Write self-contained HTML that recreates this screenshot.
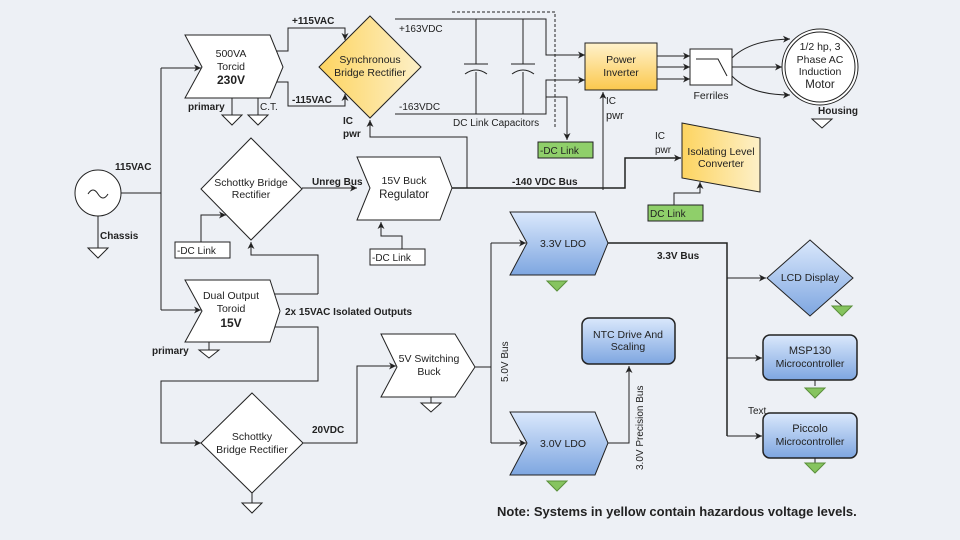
<!DOCTYPE html>
<html><head><meta charset="utf-8"><style>
html,body{margin:0;padding:0;background:#edf0f5;}
svg{display:block;font-family:"Liberation Sans",sans-serif;}
</style></head><body>
<svg width="960" height="540" viewBox="0 0 960 540" xmlns="http://www.w3.org/2000/svg">
<defs>
<linearGradient id="yl" x1="0" y1="0" x2="1" y2="0"><stop offset="0" stop-color="#fdd460"/><stop offset="1" stop-color="#fdf0c8"/></linearGradient>
<linearGradient id="yv" x1="0" y1="0" x2="0" y2="1"><stop offset="0" stop-color="#fff2cc"/><stop offset="1" stop-color="#fbc84d"/></linearGradient>
<linearGradient id="bl" x1="0" y1="0" x2="0" y2="1"><stop offset="0" stop-color="#dae8fc"/><stop offset="1" stop-color="#7ea6e0"/></linearGradient>
<marker id="a" markerWidth="8" markerHeight="8" refX="7" refY="4" orient="auto" markerUnits="userSpaceOnUse"><path d="M0,0.5 L7,4 L0,7.5 L2,4z" fill="#222"/></marker>
</defs>
<rect width="960" height="540" fill="#edf0f5"/>
<g fill="none" stroke="#222" stroke-width="1">
<circle cx="98" cy="193" r="23" fill="#fff"/>
<path d="M88,194 q5,-8 10,0 t10,0"/>
<path d="M98,216 V248"/>
<path d="M121,193 H161 M161,68 V310"/>
<path d="M161,68 H201" marker-end="url(#a)"/>
<path d="M161,310 H201" marker-end="url(#a)"/>
<path d="M232,98 V115 M258,98 V115"/>
<path d="M272,51 H288 V28 H345 V40" marker-end="url(#a)"/>
<path d="M272,82 H288 V106 H345 V94" marker-end="url(#a)"/>
<path d="M395,19 H546 V55 H585" marker-end="url(#a)"/>
<path d="M395,114 H546 V80 H585" marker-end="url(#a)"/>
<path d="M476,19 V64 M476,72 V114 M523,19 V64 M523,72 V114"/>
<path d="M464,64 H488 M511,64 H535"/>
<path d="M465,74 q11,-8 22,0 M512,74 q11,-8 22,0"/>
<path d="M452,12 H555 V128" stroke-dasharray="3,2"/>
<path d="M546,97 H567 V140" marker-end="url(#a)"/>
<path d="M657,56 H690" marker-end="url(#a)"/>
<path d="M657,67 H690" marker-end="url(#a)"/>
<path d="M657,79 H690" marker-end="url(#a)"/>
<path d="M732,58 Q750,40 790,39" marker-end="url(#a)"/>
<path d="M732,67 H782" marker-end="url(#a)"/>
<path d="M732,76 Q750,95 790,95" marker-end="url(#a)"/>
<path d="M603,190 V92" marker-end="url(#a)"/>
<path d="M467,188 V137 H370 V120" marker-end="url(#a)"/>
<path d="M452,188 H625 V158 H681" stroke-width="1.5" marker-end="url(#a)"/>
<path d="M674,205 V193 H700 V182" marker-end="url(#a)"/>
<path d="M302,188 H357" marker-end="url(#a)"/>
<path d="M201,242 V215 H226" marker-end="url(#a)"/>
<path d="M402,249 V236 H381 V222" marker-end="url(#a)"/>
<path d="M318,294 H270 M318,294 V255 H251 V242" marker-end="url(#a)"/>
<path d="M270,327 H318 V381 H161 V443 H201" marker-end="url(#a)"/>
<path d="M209,342 V350"/>
<path d="M252,493 V503"/>
<path d="M303,443 H357 V366 H396" marker-end="url(#a)"/>
<path d="M431,397 V403"/>
<path d="M475,367 H491 M491,243 V443"/>
<path d="M491,243 H526" marker-end="url(#a)"/>
<path d="M491,443 H526" marker-end="url(#a)"/>
<path d="M608,243 H727 V436" stroke-width="1.5"/>
<path d="M727,278 H766" marker-end="url(#a)"/>
<path d="M727,358 H762" marker-end="url(#a)"/>
<path d="M727,436 H762" marker-end="url(#a)"/>
<path d="M608,443 H629 V366" marker-end="url(#a)"/>
<path d="M835,300 L842,306 M815,380 V386 M815,458 V463"/>
</g>
<g fill="#fff" stroke="#222">
<path d="M88,248 H108 L98,258z"/>
<path d="M222,115 H242 L232,125z"/>
<path d="M248,115 H268 L258,125z"/>
<path d="M199,350 H219 L209,358z"/>
<path d="M242,503 H262 L252,513z"/>
<path d="M421,403 H441 L431,412z"/>
<path d="M812,119 H832 L822,128z"/>
</g>
<g fill="#86c45f" stroke="#5a8f3a">
<path d="M547,281 H567 L557,291z"/>
<path d="M547,481 H567 L557,491z"/>
<path d="M832,306 H852 L842,316z"/>
<path d="M805,388 H825 L815,398z"/>
<path d="M805,463 H825 L815,473z"/>
</g>
<g stroke="#222" stroke-width="1">
<path d="M185,35 H270 L283,67 L270,98 H185 L202,67z" fill="#fff"/>
<path d="M370,16 L421,67 L370,118 L319,67z" fill="url(#yl)"/>
<rect x="585" y="43" width="72" height="47" fill="url(#yv)"/>
<rect x="690" y="49" width="42" height="36" fill="#fff"/>
<circle cx="820" cy="67" r="38" fill="#fff"/><circle cx="820" cy="67" r="35" fill="#fff"/>
<path d="M682,123 L760,138 V192 L682,178z" fill="url(#yl)"/>
<path d="M251,138 L302,189 L251,240 L201,189z" fill="#fff"/>
<path d="M357,157 H440 L452,188 L440,220 H357 L370,188z" fill="#fff"/>
<path d="M185,280 H270 L280,311 L270,342 H185 L202,311z" fill="#fff"/>
<path d="M252,393 L303,443 L252,493 L201,443z" fill="#fff"/>
<path d="M381,334 H455 L475,367 L455,397 H381 L397,367z" fill="#fff"/>
<path d="M510,212 H595 L608,243 L595,275 H510 L527,243z" fill="url(#bl)"/>
<path d="M510,412 H595 L608,443 L595,475 H510 L527,443z" fill="url(#bl)"/>
<path d="M810,240 L853,278 L810,316 L767,278z" fill="url(#bl)"/>
<rect x="763" y="335" width="94" height="45" rx="7" fill="url(#bl)" stroke-width="1.5"/>
<rect x="763" y="413" width="94" height="45" rx="7" fill="url(#bl)" stroke-width="1.5"/>
<rect x="582" y="318" width="93" height="46" rx="7" fill="url(#bl)" stroke-width="1.5"/>
<rect x="538" y="142" width="55" height="16" fill="#8fcf6a"/>
<rect x="648" y="205" width="55" height="16" fill="#8fcf6a"/>
<rect x="370" y="249" width="55" height="16" fill="#fff"/>
<rect x="175" y="242" width="55" height="16" fill="#fff"/>
</g>
<path d="M696,59 H718 L727,76" fill="none" stroke="#222"/>
<g font-size="10.5" fill="#222" text-anchor="middle">
<text x="231" y="57">500VA</text><text x="231" y="70">Torcid</text><text x="231" y="84" font-weight="bold" font-size="12">230V</text>
<text x="370" y="63">Synchronous</text><text x="370" y="76">Bridge Rectifier</text>
<text x="621" y="63">Power</text><text x="621" y="76">Inverter</text>
<text x="820" y="50">1/2 hp, 3</text><text x="820" y="63">Phase AC</text><text x="820" y="75">Induction</text><text x="820" y="88" font-size="11.5">Motor</text>
<text x="721" y="155">Isolating Level</text><text x="721" y="167">Converter</text>
<text x="251" y="186">Schottky Bridge</text><text x="251" y="198">Rectifier</text>
<text x="404" y="184">15V Buck</text><text x="404" y="198" font-size="11.5">Regulator</text>
<text x="231" y="299">Dual Output</text><text x="231" y="312">Toroid</text><text x="231" y="327" font-weight="bold" font-size="12">15V</text>
<text x="252" y="440">Schottky</text><text x="252" y="453">Bridge Rectifier</text>
<text x="429" y="362">5V Switching</text><text x="429" y="375">Buck</text>
<text x="563" y="247">3.3V LDO</text>
<text x="563" y="447">3.0V LDO</text>
<text x="810" y="281">LCD Display</text>
<text x="810" y="354" font-size="11">MSP130</text><text x="810" y="367">Microcontroller</text>
<text x="810" y="432" font-size="11">Piccolo</text><text x="810" y="445">Microcontroller</text>
<text x="628" y="338">NTC Drive And</text><text x="628" y="350">Scaling</text>
<text x="711" y="99">Ferriles</text>
</g>
<g font-size="10" fill="#222">
<text x="292" y="24" font-weight="bold">+115VAC</text>
<text x="292" y="103" font-weight="bold">-115VAC</text>
<text x="399" y="32">+163VDC</text>
<text x="399" y="110">-163VDC</text>
<text x="453" y="126">DC Link Capacitors</text>
<text x="540" y="154">-DC Link</text>
<text x="650" y="217">DC Link</text>
<text x="372" y="261">-DC Link</text>
<text x="177" y="254">-DC Link</text>
<text x="343" y="124" font-weight="bold">IC</text><text x="343" y="137" font-weight="bold">pwr</text>
<text x="606" y="104">IC</text><text x="606" y="119" font-size="11">pwr</text>
<text x="655" y="139">IC</text><text x="655" y="153">pwr</text>
<text x="818" y="114" font-weight="bold">Housing</text>
<text x="115" y="170" font-weight="bold">115VAC</text>
<text x="100" y="239" font-weight="bold">Chassis</text>
<text x="188" y="110" font-weight="bold">primary</text>
<text x="260" y="110">C.T.</text>
<text x="312" y="185" font-weight="bold">Unreg Bus</text>
<text x="512" y="185" font-weight="bold">-140 VDC Bus</text>
<text x="285" y="315" font-weight="bold">2x 15VAC Isolated Outputs</text>
<text x="152" y="354" font-weight="bold">primary</text>
<text x="312" y="433" font-weight="bold">20VDC</text>
<text x="657" y="259" font-weight="bold">3.3V Bus</text>
<text x="748" y="414">Text</text>
<text transform="translate(508,382) rotate(-90)">5.0V Bus</text>
<text transform="translate(643,470) rotate(-90)">3.0V Precision Bus</text>
<text x="497" y="516" font-size="13" font-weight="bold">Note: Systems in yellow contain hazardous voltage levels.</text>
</g>
</svg>
</body></html>
